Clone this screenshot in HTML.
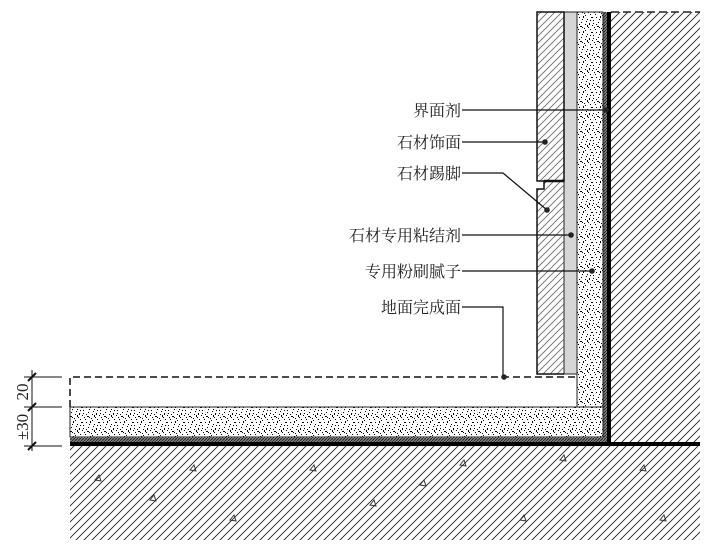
<!DOCTYPE html>
<html><head><meta charset="utf-8"><style>
html,body{margin:0;padding:0;background:#fff;width:713px;height:547px;overflow:hidden}
svg{display:block}
text{font-family:"Liberation Serif","Noto Serif CJK SC",serif;font-size:16px;fill:#222}
</style></head><body>
<svg width="713" height="547" viewBox="0 0 713 547" xmlns="http://www.w3.org/2000/svg">
<defs>
<pattern id="hatch" width="8" height="8" patternUnits="userSpaceOnUse">
<path d="M-2,10 L10,-2 M-2,2 L2,-2 M6,10 L10,6" stroke="#222" stroke-width="0.9"/>
</pattern>
<pattern id="hatchS" width="7" height="7" patternUnits="userSpaceOnUse">
<path d="M-2,9 L9,-2 M-2,2 L2,-2 M5,9 L9,5" stroke="#666" stroke-width="0.8"/>
</pattern>
<pattern id="dark" width="3" height="3" patternUnits="userSpaceOnUse">
<rect width="3" height="3" fill="#888"/><path d="M0,3 L3,0" stroke="#222" stroke-width="1"/>
</pattern>
<pattern id="stip" width="17" height="15" patternUnits="userSpaceOnUse">
<rect width="17" height="15" fill="#fff"/>
<g fill="#000">
<rect x="1" y="2" width="1" height="1"/><rect x="5" y="1" width="1" height="2"/><rect x="9" y="4" width="1" height="1"/>
<rect x="13" y="2" width="2" height="1"/><rect x="15" y="5" width="1" height="1"/><rect x="3" y="7" width="1" height="1"/>
<rect x="7" y="9" width="1" height="1"/><rect x="11" y="8" width="1" height="2"/><rect x="14" y="10" width="1" height="1"/>
<rect x="16" y="12" width="1" height="1"/><rect x="2" y="11" width="2" height="1"/><rect x="6" y="13" width="1" height="1"/>
<rect x="10" y="12" width="1" height="1"/><rect x="12" y="14" width="1" height="1"/><rect x="0" y="14" width="1" height="1"/>
<rect x="8" y="6" width="1" height="1"/><rect x="4" y="4" width="1" height="1"/><rect x="12" y="5" width="1" height="1"/>
<rect x="1" y="9" width="1" height="1"/><rect x="9" y="10" width="1" height="2"/><rect x="15" y="8" width="1" height="1"/>
<rect x="7" y="0" width="1" height="1"/><rect x="4" y="12" width="1" height="1"/>
</g>
</pattern>
</defs>

<rect x="611" y="12" width="89" height="433" fill="url(#hatch)"/>
<line x1="611" y1="12" x2="700" y2="12" stroke="#222" stroke-width="1.5" stroke-dasharray="8,4"/>
<rect x="603" y="12" width="4" height="430" fill="url(#dark)"/>
<line x1="609" y1="12" x2="609" y2="446" stroke="#000" stroke-width="4"/>
<rect x="577" y="12" width="26" height="396" fill="url(#stip)" stroke="#222" stroke-width="1"/>
<rect x="564" y="12" width="13" height="362" fill="#d6d6d6" stroke="#222" stroke-width="1"/>
<rect x="537" y="12" width="27" height="169" fill="url(#hatchS)" stroke="#111" stroke-width="1.5"/>
<path d="M564,181 L544,181 L544,189 L537,189 L537,374 L564,374" fill="url(#hatchS)" stroke="#111" stroke-width="1.5"/>
<line x1="544" y1="181" x2="564" y2="181" stroke="#111" stroke-width="2.5"/>

<rect x="70" y="407" width="533" height="30" fill="url(#stip)" stroke="#222" stroke-width="1"/>
<rect x="70" y="437" width="537" height="5" fill="url(#dark)"/>
<line x1="70" y1="444" x2="700" y2="444" stroke="#000" stroke-width="4"/>
<rect x="70" y="446" width="630" height="94" fill="url(#hatch)"/>
<g fill="none" stroke="#333" stroke-width="1">
<path d="M95,480 l4,-5 l2,6z M310,470 l4,-5 l2,6z M150,500 l4,-5 l2,6z M420,485 l4,-5 l2,6z M520,520 l4,-5 l2,6z M640,470 l4,-5 l2,6z M230,520 l4,-5 l2,6z M560,460 l4,-5 l2,6z M370,505 l4,-5 l2,6z M660,520 l4,-5 l2,6z M190,470 l4,-5 l2,6z M460,465 l4,-5 l2,6z"/>
</g>
<path d="M70,407 L70,377 L577,377" fill="none" stroke="#111" stroke-width="1.5" stroke-dasharray="7,4"/>

<g stroke="#111" stroke-width="1">
<line x1="32" y1="370" x2="32" y2="451"/>
<line x1="24" y1="377" x2="62" y2="377"/>
<line x1="24" y1="407" x2="62" y2="407"/>
<line x1="24" y1="446" x2="62" y2="446"/>
<line x1="28" y1="381" x2="36" y2="373" stroke-width="2"/>
<line x1="28" y1="411" x2="36" y2="403" stroke-width="2"/>
<line x1="28" y1="450" x2="36" y2="442" stroke-width="2"/>
</g>
<text transform="translate(28,392) rotate(-90)" text-anchor="middle" style="font-size:17px">20</text>
<text transform="translate(28,427) rotate(-90)" text-anchor="middle" style="font-size:17px">±30</text>

<g stroke="#111" stroke-width="1.2" fill="none">
<line x1="462" y1="110" x2="607" y2="110"/>
<line x1="462" y1="142" x2="545" y2="142"/>
<path d="M462,173 L503,173 L547,210"/>
<line x1="462" y1="235" x2="571" y2="235"/>
<line x1="462" y1="271" x2="592" y2="271"/>
<path d="M462,307 L503,307 L503,377"/>
</g>
<g fill="#222">
<circle cx="606" cy="110" r="2.8"/><circle cx="545" cy="142" r="2.8"/><circle cx="547" cy="210" r="2.8"/>
<circle cx="571" cy="235" r="2.8"/><circle cx="592" cy="271" r="2.8"/><circle cx="504" cy="377" r="2.8"/>
</g>
<g text-anchor="end">
<text x="461" y="116">界面剂</text>
<text x="461" y="148">石材饰面</text>
<text x="461" y="179">石材踢脚</text>
<text x="461" y="241">石材专用粘结剂</text>
<text x="461" y="277">专用粉刷腻子</text>
<text x="461" y="313">地面完成面</text>
</g>
</svg>
</body></html>
